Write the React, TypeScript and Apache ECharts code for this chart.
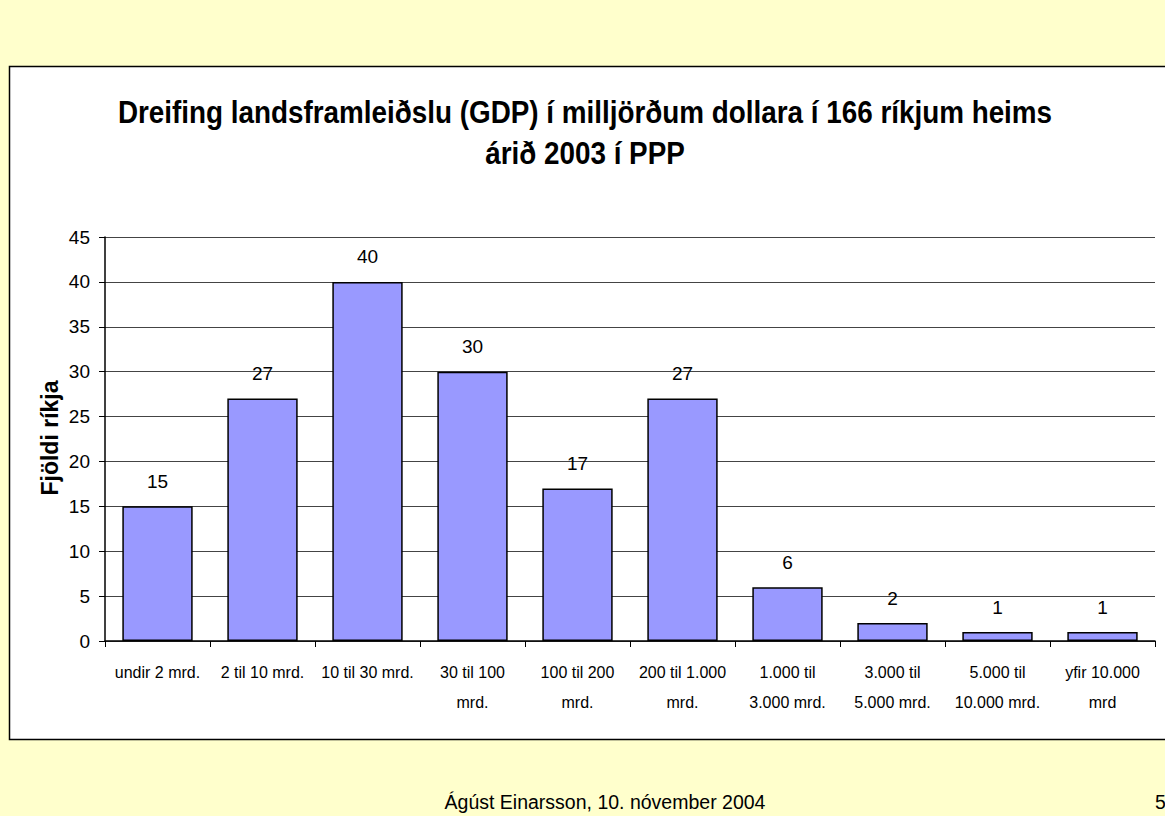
import React, { useEffect, useRef } from "react";
import * as echarts from "echarts";

const categories = [
  "undir 2 mrd.",
  "2 til 10 mrd.",
  "10 til 30 mrd.",
  "30 til 100\nmrd.",
  "100 til 200\nmrd.",
  "200 til 1.000\nmrd.",
  "1.000 til\n3.000 mrd.",
  "3.000 til\n5.000 mrd.",
  "5.000 til\n10.000 mrd.",
  "yfir 10.000\nmrd",
];
const counts = [15, 27, 40, 30, 17, 27, 6, 2, 1, 1];
const titleLines = [
  "Dreifing landsframleiðslu (GDP) í milljörðum dollara í 166 ríkjum heims",
  "árið 2003 í PPP",
];
const yAxisName = "Fjöldi ríkja";
const footer = "Ágúst Einarsson, 10. nóvember 2004";
const pageNo = "5";

const ARIAL = "'Liberation Sans', Arial, sans-serif";

export default function App() {
  const ref = useRef<HTMLDivElement>(null);
  useEffect(() => {
    if (!ref.current) return;
    const chart = echarts.init(ref.current, undefined, { renderer: "svg" });
    const titleStyle = {
      fontFamily: ARIAL,
      fontWeight: "bold",
      fontSize: 32,
      fill: "#000",
      align: "center",
      verticalAlign: "middle",
    };
    chart.setOption({
      animation: false,
      backgroundColor: "#FFFFCC",
      graphic: [
        {
          type: "rect",
          z: -10,
          shape: { x: 9.5, y: 66.5, width: 1170, height: 673 },
          style: { fill: "#FFFFFF", stroke: "#000000", lineWidth: 1.5 },
        },
        {
          type: "text",
          x: 585,
          y: 112,
          scaleX: 0.87,
          style: { ...titleStyle, text: titleLines[0] },
        },
        {
          type: "text",
          x: 585,
          y: 153,
          scaleX: 0.87,
          style: { ...titleStyle, text: titleLines[1] },
        },
        {
          type: "text",
          x: 50,
          y: 438,
          rotation: Math.PI / 2,
          style: {
            text: yAxisName,
            fontFamily: ARIAL,
            fontWeight: "bold",
            fontSize: 23,
            fill: "#000",
            align: "center",
            verticalAlign: "middle",
          },
        },
        {
          type: "text",
          x: 605,
          y: 802,
          style: {
            text: footer,
            fontFamily: ARIAL,
            fontSize: 19.5,
            fill: "#000",
            align: "center",
            verticalAlign: "middle",
          },
        },
        {
          type: "text",
          x: 1155,
          y: 802,
          style: {
            text: pageNo,
            fontFamily: ARIAL,
            fontSize: 19.5,
            fill: "#000",
            align: "left",
            verticalAlign: "middle",
          },
        },
      ],
      grid: { left: 105, top: 237, right: 10, bottom: 175, containLabel: false },
      xAxis: {
        type: "category",
        data: categories,
        axisLine: { lineStyle: { color: "#000", width: 1.5 } },
        axisTick: { show: true, length: 6, lineStyle: { color: "#000" } },
        axisLabel: {
          fontFamily: ARIAL,
          fontSize: 16,
          color: "#000",
          lineHeight: 30,
          margin: 16,
          interval: 0,
        },
      },
      yAxis: {
        type: "value",
        min: 0,
        max: 45,
        interval: 5,
        axisLine: { show: true, lineStyle: { color: "#000", width: 1.5 } },
        axisTick: { show: true, length: 6, lineStyle: { color: "#000" } },
        axisLabel: { fontFamily: ARIAL, fontSize: 19, color: "#000", margin: 15 },
        splitLine: { show: true, lineStyle: { color: "#444", width: 1 } },
      },
      series: [
        {
          type: "bar",
          data: counts,
          barCategoryGap: "33%",
          itemStyle: { color: "#9999FF", borderColor: "#000", borderWidth: 1.5 },
          label: {
            show: true,
            position: "top",
            distance: 15,
            fontFamily: ARIAL,
            fontSize: 19,
            lineHeight: 20,
            color: "#000",
          },
        },
      ],
    });
    return () => chart.dispose();
  }, []);
  return (
    <div
      ref={ref}
      style={{ position: "fixed", left: 0, top: 0, width: 1165, height: 816 }}
    />
  );
}
